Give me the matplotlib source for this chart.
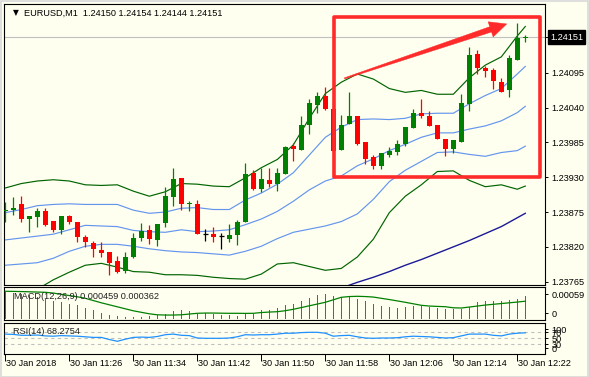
import matplotlib
matplotlib.use("Agg")
import matplotlib.pyplot as plt
from matplotlib.patches import Rectangle, Polygon
from matplotlib.transforms import blended_transform_factory
import numpy as np

# ---------------- data ----------------
opens = [1.23876, 1.23878, 1.23887, 1.23864, 1.23867, 1.23876, 1.23861, 1.23846, 1.23868, 1.23859,
         1.23836, 1.23826, 1.23815, 1.23812, 1.23797, 1.23782, 1.23804, 1.23834, 1.23847, 1.23831,
         1.23858, 1.23899, 1.23929, 1.23887, 1.23888, 1.23841, 1.23840, 1.23837, 1.23833, 1.23839,
         1.23859, 1.23937, 1.23912, 1.23926, 1.23919, 1.23935, 1.23979, 1.23973, 1.24012, 1.24044,
         1.24058, 1.24037, 1.23973, 1.24014, 1.24026, 1.23986, 1.23962, 1.23947, 1.23965, 1.23970,
         1.23982, 1.24008, 1.24032, 1.24027, 1.24012, 1.23990, 1.23975, 1.23986, 1.24046, 1.24125,
         1.24102, 1.24099, 1.24081, 1.24067, 1.24115, 1.24150]
highs = [1.23891, 1.23898, 1.23901, 1.23868, 1.23882, 1.23882, 1.23861, 1.23869, 1.23870, 1.23859,
         1.23838, 1.23830, 1.23827, 1.23812, 1.23806, 1.23812, 1.23842, 1.23858, 1.23855, 1.23856,
         1.23915, 1.23945, 1.23929, 1.23893, 1.23894, 1.23849, 1.23851, 1.23842, 1.23856, 1.23862,
         1.23953, 1.23941, 1.23944, 1.23944, 1.23945, 1.23979, 1.23984, 1.24026, 1.24053, 1.24065,
         1.24072, 1.24040, 1.24028, 1.24065, 1.24026, 1.23986, 1.23965, 1.23968, 1.23978, 1.23989,
         1.24010, 1.24038, 1.24053, 1.24034, 1.24012, 1.23991, 1.23988, 1.24061, 1.24136, 1.24131,
         1.24105, 1.24102, 1.24086, 1.24123, 1.24174, 1.24154]
lows = [1.23860, 1.23870, 1.23860, 1.23844, 1.23851, 1.23853, 1.23844, 1.23841, 1.23856, 1.23828,
        1.23820, 1.23804, 1.23804, 1.23776, 1.23778, 1.23779, 1.23803, 1.23830, 1.23824, 1.23821,
        1.23852, 1.23885, 1.23879, 1.23876, 1.23840, 1.23830, 1.23827, 1.23816, 1.23828, 1.23823,
        1.23859, 1.23910, 1.23907, 1.23915, 1.23909, 1.23935, 1.23956, 1.23973, 1.23998, 1.24032,
        1.24036, 1.23970, 1.23973, 1.24014, 1.23981, 1.23951, 1.23943, 1.23943, 1.23962, 1.23965,
        1.23979, 1.24008, 1.24023, 1.24011, 1.23990, 1.23964, 1.23968, 1.23986, 1.24035, 1.24093,
        1.24088, 1.24070, 1.24065, 1.24057, 1.24115, 1.24144]
closes = [1.23879, 1.23882, 1.23864, 1.23868, 1.23876, 1.23855, 1.23847, 1.23868, 1.23859, 1.23836,
          1.23827, 1.23816, 1.23810, 1.23795, 1.23781, 1.23804, 1.23834, 1.23845, 1.23833, 1.23856,
          1.23900, 1.23927, 1.23888, 1.23889, 1.23840, 1.23841, 1.23836, 1.23837, 1.23839, 1.23859,
          1.23935, 1.23912, 1.23927, 1.23920, 1.23937, 1.23978, 1.23975, 1.24012, 1.24047, 1.24058,
          1.24037, 1.23972, 1.24012, 1.24027, 1.23982, 1.23959, 1.23948, 1.23968, 1.23971, 1.23982,
          1.24010, 1.24032, 1.24026, 1.24011, 1.23990, 1.23975, 1.23988, 1.24047, 1.24123, 1.24102,
          1.24097, 1.24082, 1.24065, 1.24119, 1.24150, 1.24151]

band_idx = [0, 2, 4, 6, 8, 10, 12, 14, 16, 18, 20, 22, 24, 26, 28, 30, 32, 34, 36, 38,
            40, 42, 44, 46, 48, 50, 52, 54, 56, 58, 60, 62, 64, 65]
bb_up2 = [1.23913, 1.23920, 1.23924, 1.23926, 1.23924, 1.23918, 1.23917, 1.23918, 1.23908, 1.23900,
          1.23907, 1.23920, 1.23919, 1.23916, 1.23915, 1.23929, 1.23945, 1.23958, 1.23981, 1.24023,
          1.24062, 1.24080, 1.24093, 1.24085, 1.24070, 1.24064, 1.24067, 1.24061, 1.24061, 1.24087,
          1.24107, 1.24120, 1.24153, 1.24168]
bb_up1 = [1.23874, 1.23879, 1.23885, 1.23887, 1.23888, 1.23887, 1.23887, 1.23887, 1.23878, 1.23873,
          1.23875, 1.23881, 1.23882, 1.23879, 1.23879, 1.23894, 1.23905, 1.23919, 1.23937, 1.23965,
          1.23993, 1.24009, 1.24021, 1.24022, 1.24021, 1.24023, 1.24030, 1.24031, 1.24031, 1.24046,
          1.24059, 1.24070, 1.24093, 1.24105]
bb_mid = [1.23831, 1.23834, 1.23837, 1.23840, 1.23847, 1.23854, 1.23853, 1.23852, 1.23846, 1.23844,
          1.23843, 1.23847, 1.23844, 1.23845, 1.23847, 1.23855, 1.23864, 1.23876, 1.23892, 1.23910,
          1.23924, 1.23932, 1.23948, 1.23959, 1.23972, 1.23982, 1.23993, 1.24000, 1.24000, 1.24006,
          1.24011, 1.24019, 1.24032, 1.24042]
bb_lo1 = [1.23791, 1.23793, 1.23795, 1.23802, 1.23813, 1.23821, 1.23824, 1.23824, 1.23821, 1.23817,
          1.23814, 1.23812, 1.23811, 1.23809, 1.23807, 1.23813, 1.23821, 1.23833, 1.23843, 1.23848,
          1.23853, 1.23860, 1.23872, 1.23895, 1.23923, 1.23941, 1.23955, 1.23969, 1.23970, 1.23966,
          1.23963, 1.23969, 1.23972, 1.23979]
bb_lo2 = [1.23749, 1.23750, 1.23753, 1.23768, 1.23780, 1.23791, 1.23794, 1.23788, 1.23781, 1.23780,
          1.23776, 1.23776, 1.23775, 1.23772, 1.23770, 1.23769, 1.23777, 1.23793, 1.23795, 1.23789,
          1.23783, 1.23786, 1.23804, 1.23832, 1.23874, 1.23900, 1.23918, 1.23939, 1.23940, 1.23925,
          1.23915, 1.23918, 1.23911, 1.23916]

ma_idx = [42, 44, 46, 48, 50, 52, 54, 56, 58, 60, 62, 64, 65]
ma_vals = [1.23755, 1.23764, 1.23772, 1.23781, 1.23791, 1.23800, 1.23810, 1.23820, 1.23830,
           1.23841, 1.23852, 1.23866, 1.23873]

macd_main = [0.00056, 0.00053, 0.00051, 0.00048, 0.00045, 0.00041, 0.00037, 0.00034, 0.00031, 0.00028,
             0.00023, 0.00018, 0.00013, 0.00009, 0.00006, 0.00004, 0.00004, 0.00005, 0.00007, 0.00009,
             0.00011, 0.00017, 0.00019, 0.00017, 0.00011, 0.00012, 0.00010, 0.00008, 0.00008, 0.00006,
             0.00012, 0.00010, 0.00018, 0.00018, 0.000227, 0.000287, 0.000307, 0.00036, 0.000427, 0.000487,
             0.000507, 0.00046, 0.00044, 0.00046, 0.000407, 0.000373, 0.000307, 0.000267, 0.000247, 0.000227,
             0.000247, 0.000267, 0.000267, 0.000253, 0.000233, 0.000207, 0.000207, 0.000207, 0.000253, 0.000347,
             0.000367, 0.000367, 0.000367, 0.000387, 0.000413, 0.000459]
macd_signal = [0.000560, 0.000558, 0.000555, 0.000550, 0.000545, 0.000540, 0.000525, 0.000500, 0.000475, 0.000450,
               0.000420, 0.000375, 0.000330, 0.000290, 0.000250, 0.000210, 0.000170, 0.000140, 0.000110, 0.000090,
               0.000085, 0.000085, 0.000090, 0.000105, 0.000120, 0.000125, 0.000125, 0.000122, 0.000120, 0.000120,
               0.000118, 0.000120, 0.000135, 0.000145, 0.000152, 0.000172, 0.000200, 0.000235, 0.000270, 0.000305,
               0.000340, 0.000390, 0.000440, 0.000455, 0.000460, 0.000455, 0.000445, 0.000420, 0.000395, 0.000368,
               0.000340, 0.000310, 0.000280, 0.000265, 0.000258, 0.000252, 0.000230, 0.000226, 0.000245, 0.000265,
               0.000285, 0.000300, 0.000315, 0.000330, 0.000345, 0.000362]
rsi_vals = [64, 63, 60, 60, 61, 58, 57, 59, 58, 57, 55, 53, 53, 46, 40, 47, 53, 54, 53, 56,
            62, 64, 60, 59, 51, 50, 50, 50, 51, 55, 62, 61, 62, 62, 64, 67, 67, 69, 70, 70,
            67, 57, 59, 60, 55, 51, 50, 51, 51, 52, 55, 57, 56, 55, 53, 51, 52, 58, 64, 64,
            64, 60, 58, 64, 67, 68.2754]
rsi_levels = [70, 50, 30]

time_tick_idx = [0, 8, 16, 24, 32, 40, 48, 56, 64]
time_labels = ["30 Jan 2018", "30 Jan 11:26", "30 Jan 11:34", "30 Jan 11:42", "30 Jan 11:50",
               "30 Jan 11:58", "30 Jan 12:06", "30 Jan 12:14", "30 Jan 12:22"]
price_ticks = [1.24095, 1.24040, 1.23985, 1.23930, 1.23875, 1.23820, 1.23765]
last_price = 1.24151
title_text = "EURUSD,M1  1.24150 1.24154 1.24144 1.24151"
macd_title = "MACD(12,26,9) 0.000459 0.000362"
rsi_title = "RSI(14) 68.2754"

# box / arrow annotation anchors (bar index, price)
box_x = (41.03, 66.78)
box_y = (1.23930, 1.24183)
arrow_tail = (42.4, 1.24086)
arrow_tip = (62.68, 1.24172)

# ---------------- styling ----------------
W, H = 589, 377
BG = '#FFFFF0'
BULL, BEAR, DOJI = '#008000', '#FF0000', '#000000'
GREEN_BAND, BLUE_BAND, NAVY = '#006400', '#6495ED', '#1A1A96'
FS = 6.6
plt.rcParams['font.family'] = ['Liberation Sans', 'DejaVu Sans']

fig = plt.figure(figsize=(W / 100, H / 100), dpi=100)
fig.patch.set_facecolor(BG)


def ax_px(l, t, r, b):
    return fig.add_axes([l / W, 1 - b / H, (r - l) / W, (b - t) / H])


ax = ax_px(4, 4, 545, 285)
axm = ax_px(4, 287, 545, 320)
axr = ax_px(4, 322.5, 545, 353.5)

xlim = (-0.1625, 67.4625)
for a in (ax, axm, axr):
    a.set_facecolor(BG)
    a.set_xlim(*xlim)
    for s in a.spines.values():
        s.set_color('black')
        s.set_linewidth(0.8)
    a.tick_params(axis='x', bottom=False, labelbottom=False)
    a.yaxis.tick_right()
    a.tick_params(axis='y', direction='out', length=2.5, width=0.7, pad=2,
                  labelsize=FS, colors='black')

ax.set_ylim(1.237598, 1.242035)
idx = np.arange(len(opens))
o = np.array(opens); c = np.array(closes); hi = np.array(highs); lo = np.array(lows)
cols = np.where(c > o, BULL, np.where(c < o, BEAR, DOJI))

# bands + MA
lw_line = 0.85
ax.plot(band_idx, bb_up2, color=GREEN_BAND, lw=lw_line, zorder=2)
ax.plot(band_idx, bb_lo2, color=GREEN_BAND, lw=lw_line, zorder=2)
ax.plot(band_idx, bb_up1, color=BLUE_BAND, lw=lw_line, zorder=2)
ax.plot(band_idx, bb_mid, color=BLUE_BAND, lw=lw_line, zorder=2)
ax.plot(band_idx, bb_lo1, color=BLUE_BAND, lw=lw_line, zorder=2)
ax.plot(ma_idx, ma_vals, color=NAVY, lw=1.0, zorder=2)

# price line
ax.axhline(last_price, color='#C0C0C0', lw=0.8, zorder=1)

# candles
ax.vlines(idx, lo, hi, colors=cols, lw=0.9, zorder=3)
body_h = np.abs(c - o)
ax.bar(idx, body_h, bottom=np.minimum(o, c), width=0.64, color=cols, linewidth=0, zorder=4)
doji = body_h < 1e-7
ax.hlines(o[doji], idx[doji] - 0.33, idx[doji] + 0.33, colors=cols[doji], lw=0.9, zorder=4)

# right price axis
ax.set_yticks(price_ticks + [last_price])
ax.set_yticklabels([f"{v:.5f}" for v in price_ticks] + [""])
ax.text(1.0 + 5 / 541, last_price, f"{last_price:.5f}",
        transform=blended_transform_factory(ax.transAxes, ax.transData),
        ha='left', va='center', fontsize=FS, color='white', zorder=10, clip_on=False,
        bbox=dict(boxstyle='square,pad=0.25', fc='black', ec='black'))

# title
ax.text(9 / 541, 1 - 9 / 281, "\u25BC", transform=ax.transAxes, fontsize=5.5,
        family='DejaVu Sans', va='center', ha='left', color='black')
ax.text(20 / 541, 1 - 9 / 281, title_text, transform=ax.transAxes, fontsize=FS,
        va='center', ha='left', color='black')

# annotation box and arrow (red)
RED = '#FF2A2A'
ax.add_patch(Rectangle((box_x[0], box_y[0]), box_x[1] - box_x[0], box_y[1] - box_y[0],
                       fill=False, ec=RED, lw=2.6, joinstyle='round', zorder=6, clip_on=False))
fig.canvas.draw()
T = ax.transData.transform(arrow_tail)
P = ax.transData.transform(arrow_tip)
u = (P - T) / np.linalg.norm(P - T)
n = np.array([-u[1], u[0]])
hl, hw, sw_head, sw_tail = 17.0, 8.0, 2.8, 0.6
B = P - u * hl
pts = [T + n * sw_tail, B + n * sw_head, B + n * hw, P, B - n * hw, B - n * sw_head, T - n * sw_tail]
ax.add_patch(Polygon(ax.transData.inverted().transform(np.array(pts)), closed=True,
                     fc=RED, ec=RED, lw=0.3, zorder=7))

# ---------------- MACD ----------------
axm.set_ylim(-0.000014, 0.000646)
axm.bar(idx, macd_main, width=0.18, color='#9932CC', linewidth=0, zorder=2)
axm.plot(idx, macd_signal, color='#008000', lw=0.9, zorder=3)
axm.set_yticks([0.0005, 0.00012])
axm.set_yticklabels(["0.00059", "0"])
axm.text(10 / 541, 0.70, macd_title, transform=axm.transAxes, fontsize=FS, va='center',
         ha='left', color='#202020', zorder=5)

# ---------------- RSI ----------------
axr.set_ylim(-0.7, 102.7)
for lv in rsi_levels:
    axr.axhline(lv, color='#C0C0C0', lw=0.8, ls=(0, (3, 3)), zorder=1)
axr.plot(idx, rsi_vals, color='#1E90FF', lw=0.9, zorder=3)
axr.set_yticks([80, 70, 50, 30, 17])
axr.set_yticklabels(["100", "70", "50", "30", "0"])
axr.text(9 / 541, 0.70, rsi_title, transform=axr.transAxes, fontsize=FS, va='center',
         ha='left', color='#202020', zorder=5)

# time axis: ticks + left-aligned labels
axr.set_xticks(time_tick_idx)
axr.tick_params(axis='x', bottom=True, direction='out', length=5, width=0.7, labelbottom=False)
tb = blended_transform_factory(axr.transData, fig.transFigure)
for k, lab in zip(time_tick_idx, time_labels):
    axr.text(k + 0.12, 1 - 364 / H, lab, transform=tb, fontsize=FS, va='center', ha='left',
             color='black', clip_on=False)

# outer light frame
fig.add_artist(Rectangle((0.5 / W, 0.5 / H), 1 - 1.5 / W, 1 - 1.5 / H, transform=fig.transFigure,
                         fill=False, ec='#D8D8D8', lw=1.2))

fig.savefig("out.png", dpi=100, facecolor=BG)
